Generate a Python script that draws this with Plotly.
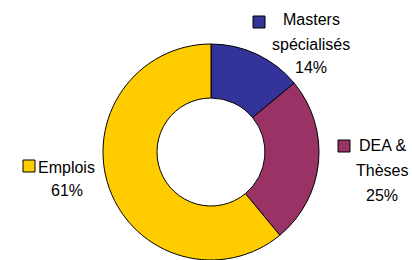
import plotly.graph_objects as go

categories = ["Masters spécialisés", "DEA & Thèses", "Emplois"]
values = [14, 25, 61]
label_lines = [["Masters", "spécialisés", "14%"], ["DEA &", "Thèses", "25%"], ["Emplois", "61%"]]
colors = ["#333399", "#993366", "#FFCC00"]

W, H = 412, 260

fig = go.Figure(go.Pie(
    labels=categories, values=values, sort=False, direction="clockwise", rotation=0,
    hole=0.5, textinfo="none", hoverinfo="label+percent",
    marker=dict(colors=colors, line=dict(color="black", width=1)),
    domain=dict(x=[103 / W, 319 / W], y=[0, 1 - 44 / H]),
    showlegend=False,
))

font = dict(family="Liberation Sans, Arial, sans-serif", size=16, color="black")

# label line positions (pixel centers)
line_pos = [
    [(311, 20), (311, 44), (311, 68)],
    [(382, 145), (382, 170), (382, 195)],
    [(66, 167), (67, 190)],
]
squares = [(253, 16, 265, 28), (338, 140, 350, 152), (23, 160, 35, 172)]

annotations = []
for lines, poss in zip(label_lines, line_pos):
    for txt, (px, py) in zip(lines, poss):
        annotations.append(dict(text=txt, x=px / W, y=1 - py / H, xref="paper", yref="paper",
                                showarrow=False, xanchor="center", yanchor="middle", font=font))

shapes = []
for (x0, y0, x1, y1), c in zip(squares, colors):
    shapes.append(dict(type="rect", xref="paper", yref="paper", x0=x0 / W, x1=x1 / W,
                       y0=1 - y1 / H, y1=1 - y0 / H, fillcolor=c, line=dict(color="black", width=1)))

fig.update_layout(width=W, height=H, margin=dict(l=0, r=0, t=0, b=0),
                  paper_bgcolor="white", plot_bgcolor="white",
                  annotations=annotations, shapes=shapes)

fig.write_html("out.html", config={"displayModeBar": False},
               post_script="document.body.style.margin='0';")
